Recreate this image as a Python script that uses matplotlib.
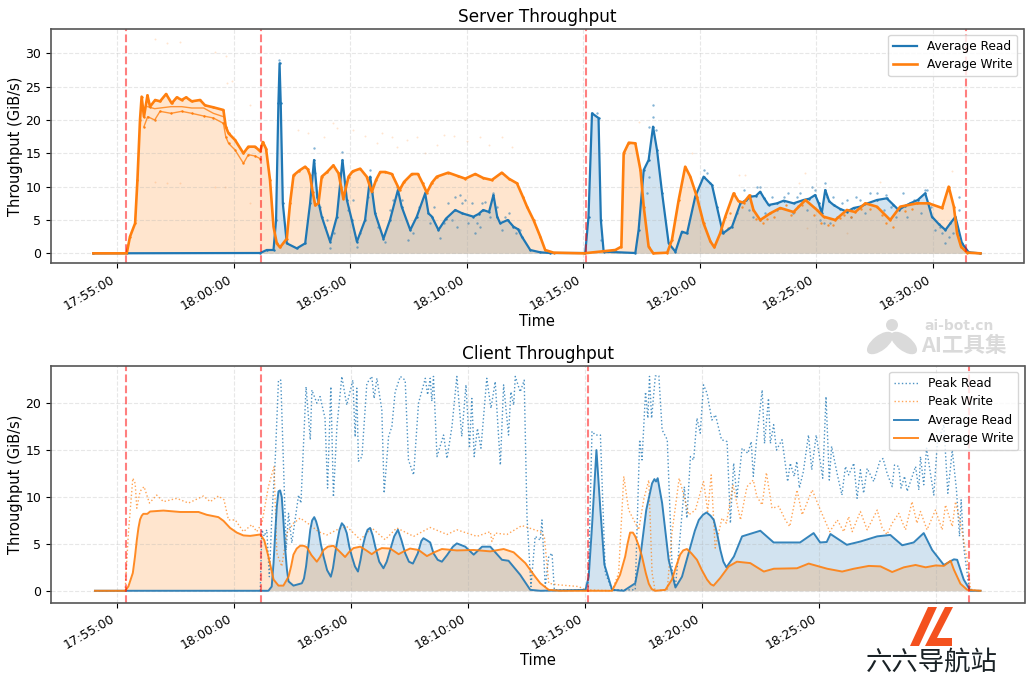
import numpy as np
import pandas as pd
import matplotlib
matplotlib.use('Agg')
import matplotlib.pyplot as plt
import matplotlib.dates as mdates
from matplotlib.patches import Rectangle, Polygon, Ellipse, Circle
from matplotlib.transforms import IdentityTransform

# all times are minutes after 17:55:00
server_write_t = [-1.03,0.4,0.54,0.76,0.86,0.97,1.04,1.14,1.29,1.4,1.62,1.83,2.09,2.33,2.55,2.76,2.95,3.19,3.55,3.76,4.12,4.55,4.65,4.77,5.05,5.41,5.62,5.91,6.13,6.24,6.38,6.55,6.7,6.84,6.98,7.27,7.41,7.56,7.8,8.06,8.17,8.27,8.38,8.49,8.63,8.77,9.0,9.27,9.49,9.6,9.7,9.92,10.1,10.42,10.7,10.92,11.1,11.28,11.5,11.78,12.11,12.3,12.64,12.9,13.1,13.28,13.5,13.71,14.2,14.6,14.93,15.36,15.7,16.07,16.5,16.8,17.15,17.4,17.58,17.86,18.15,18.36,18.72,20.01,21.37,21.63,21.73,21.95,22.23,22.45,22.59,22.8,23.0,23.6,23.8,24.09,24.37,24.59,24.87,25.16,25.45,25.62,25.87,26.09,26.45,26.66,26.88,27.13,27.3,27.59,28.02,28.45,29.02,29.53,30.03,30.31,30.81,31.31,31.67,32.1,32.6,33.17,33.6,34.32,34.82,35.4,35.68,35.9,36.04,36.21,36.47,37.04]
server_write_v = [0,0,2.5,4.5,11,20,23.5,20.5,23.7,22,23,22.8,23.9,22.5,23.4,23,23.4,22.8,23,22.2,21.9,21.5,19,18,17,15,16,16,15.3,16.7,15.7,11,4,1.5,0.9,2.2,7.5,11.7,12.4,13,12.6,11.7,9.2,7.2,7.5,11.5,12.2,13.2,12,10,8.2,11.5,12.3,12.7,11.5,9.2,11,12.2,12.2,11.9,9.5,10.7,11.9,11.9,10.5,9.1,10.6,11.5,12.1,11.6,11.2,11.9,11.3,11,12.1,11.2,10.5,8.5,7,5,2.5,0.5,0.1,0,0.5,1,15,16.6,16.5,12.5,7,1,0,0.1,2,8,13,11.5,8.5,4.5,1.8,0.9,3,5.5,9,7.8,7.6,8.7,6.5,5,6,6.8,6.2,8,6.5,5.5,5,6.5,6.2,7.5,7,5,7,7.5,7.5,6.8,10,7,3,1,0.1,0]

# lower servers during the first write phase
server_write_mid_t = [1.3,1.6,2.3,2.76,3.19,3.7,4.12,4.55]
server_write_mid_v = [22,21.7,22,22,21.8,21.8,21,20.5]
server_write_lo_t = [1.14,1.3,1.6,1.83,2.3,2.76,3.19,3.7,4.12,4.55,4.65,4.77,5.05,5.41,5.62,5.91,6.13]
server_write_lo_v = [19,20.5,20,21.3,21,21.3,21,20.6,20.3,19.5,17.5,16.5,15.5,13.5,14.8,14.6,14.2]

server_read_t = [-1.03,6.13,6.41,6.7,6.81,6.91,6.96,7.01,7.1,7.27,7.7,8.06,8.27,8.44,8.58,8.77,9.13,9.42,9.66,9.85,10.06,10.28,10.63,10.85,11.06,11.42,11.7,12.04,12.2,12.57,12.85,13.21,13.35,13.5,13.78,14.1,14.5,14.8,15.28,15.5,15.7,15.95,16.14,16.3,16.43,16.75,17,17.2,17.36,17.72,18.15,18.58,20.08,20.22,20.37,20.65,20.75,20.87,22.23,22.37,22.59,22.8,22.99,23.16,23.38,23.66,23.95,24.23,24.45,24.8,25.16,25.52,25.73,25.99,26.38,26.74,27,27.17,27.4,27.59,27.75,27.95,28.31,28.6,29.02,29.45,29.7,29.95,30.1,30.23,30.38,30.55,30.74,31,31.31,31.6,31.88,32.2,32.6,33.02,33.3,33.53,33.8,34.03,34.35,34.67,34.8,34.96,35.25,35.54,35.75,35.97,36.25,36.54,37.04]
server_read_v = [0,0.05,0.5,0.5,5,22.5,28.5,22.5,7.5,1.5,0.75,1.5,7.5,14,8.5,5.5,1.75,5.5,14,8,5,1.75,5,11.5,6,2.2,5,9.5,7,3.5,5.5,9,6,5.5,3.5,5.2,6.5,6,5.5,5.9,6.5,6.2,8.75,5.5,4.5,5,4,3.6,2.5,0.5,0.15,0.05,0.05,5.5,21,20.3,5,0.25,0.05,3.5,12.5,14,19,15.5,9,1.5,0.25,3.25,3,8.5,11.5,10.25,7,3,4,7.5,8,8.5,8.6,9.25,8.3,7.25,7.5,7.9,7.5,8,8.2,8.75,7.5,6,9.5,7.8,7.25,6.7,6.25,6.8,7,7.5,8,8.25,7.3,6.5,7.1,7.5,8,9,7.5,5.5,4.4,3.5,4.5,5.5,1.5,0.15,0]

# single server samples around the averages
read_dots_t = [6.94,6.94,8.44,8.44,8.49,9.66,9.66,10.85,8.7,9,9.13,10.13,10.28,11.49,11.99,12.49,13.21,14.5,14.71,14.93,15.79,16.14,16.64,15.36,13.85,14.57,17.29,15.57,23,23,23.1,22.8,22.8,22.73,20.75,20.58,25.16,25.3,25.45,27.59,30.38,30.45,29.95,32.6,33,34.67,35.54,35.4,36.14,36.14,30.31,30.6,27.59,27.3,28.59,29.16,31.31,31.88,
               8.9,9.3,9.9,10.4,10.75,11.2,11.7,11.85,12.2,12.7,12.95,13.4,13.6,14,14.2,14.35,14.8,15.05,15.2,15.45,15.65,16,16.3,16.5,16.8,17.1,26.6,26.9,27.1,27.45,27.8,28.1,28.3,28.8,29,29.3,29.6,29.8,30.15,30.7,30.9,31.1,31.5,31.7,32.1,32.3,32.9,33.2,33.4,33.7,33.9,34.2,34.5,34.75,34.9,35.1,35.3,35.7,35.85]
read_dots_v = [29,26.25,15.75,13.5,12,15.25,13.5,12.5,7,5,0.75,8,1,1.75,10,2,9.25,8.5,8.75,8,7.75,9,5.5,3,2.25,4,3.5,4,22.25,20.5,18.5,19,11.5,9,2,21,12.5,12,10.5,10,10.5,8.5,9.5,9,8.75,9.5,1.5,3,8.5,6.5,4.5,4.5,5,5.5,8.5,8.5,8,8,
               4,3,6.5,3,8.5,4,6.5,8,8,3,7,4.5,7,4.5,7.5,5,7.5,4.5,7.5,4.5,7.5,5.5,7,3.5,6,3,6,9.5,6.5,10,6,8.5,6.5,9,6,9,6.5,10,5,8.5,5.5,7.5,5.5,8.5,6,9,6.5,7,5.5,9,5.5,8,6,9.5,7,3.5,4,2.5,3]
write_dots_t = [1.62,2.12,2.69,4.19,4.65,4.94,4.69,5.7,7.77,8.2,8.85,9.27,9.42,10.13,10.63,11.13,11.35,11.78,11.99,12.42,12.85,13.21,13.71,14,14.43,15,15.57,15.93,16.5,16.93,1.62,2.12,2.69,4.19,4.62,5.7,22.37,24.66,26.67,26.95,29.52,29.24,35.82,32.74,29.6,31.3]
write_dots_v = [32.1,31.5,31.7,30.25,29.65,25.9,25.6,22.25,18.5,18,17.5,19.6,18.75,18.5,17.6,16.5,18,17.5,16,17,17.4,15,16.25,17.75,17.6,16.9,17.4,16.25,17.4,16,10.75,10.6,10.5,10,10,7.5,19.75,15.1,11.75,11.75,12.1,10.5,12.4,10.75,3.75,3]
write_band_t = [26.2,26.3,26.8,27.4,27.7,27.9,28.2,28.7,28.9,29.2,29.4,29.9,30.2,30.5,30.7,31,31.2,31.5,31.9,32.3,32.8,33,33.3,33.8,34.1]
write_band_v = [3.8,6,6.9,5.2,4.6,5.2,5.5,7.2,5.7,7.1,7.3,5.7,4.5,4.2,4.3,5.3,5.8,5.4,6.6,6.6,5.8,4.5,4,6.4,6.7]

client_write_t = [-0.96,0.33,0.47,0.66,0.75,0.83,0.9,0.97,1.04,1.11,1.28,1.4,1.97,2.68,3.47,3.82,4.32,4.54,4.82,5.11,5.39,5.68,6.11,6.28,6.46,6.68,6.89,7.1,7.32,7.43,7.53,7.67,7.82,7.96,8.1,8.3,8.53,8.67,8.82,9,9.24,9.5,9.74,9.9,10.1,10.39,10.65,10.88,11.1,11.31,11.67,12.03,12.25,12.52,12.88,13.24,13.55,13.88,14.52,15.24,15.95,16.52,16.95,17.45,17.87,18.09,18.45,18.94,21.16,21.5,21.72,21.82,21.93,22.05,22.15,22.3,22.44,22.6,22.73,22.85,23,23.44,23.72,23.9,24.07,24.2,24.36,24.55,24.79,25,25.22,25.38,25.5,25.78,26.15,26.5,27.07,27.65,28.08,29.07,29.57,30.36,31,31.5,32.14,32.64,33.14,33.64,34.14,34.57,35,35.35,35.64,35.78,36.06,36.35,36.92]
client_write_v = [0,0,0.46,1.9,3.6,5.4,6.7,7.6,8,8.2,8.2,8.45,8.55,8.4,8.4,8.1,7.85,7.45,6.7,6.2,5.9,5.85,6,5.4,3.65,1.2,0.55,0.55,1.5,2.6,3.85,4.5,4.8,4.8,4.65,3.8,3.1,3.6,4.35,4.7,4.8,4.2,3.6,4.1,4.55,4.7,4.3,3.9,4.3,4.55,4.5,3.9,4.2,4.5,4.35,3.7,4.1,4.45,4.3,4.35,4.2,4.45,4.1,2.95,1.5,0.8,0.1,0,0,1.7,3.65,5,6.2,6.2,5.8,4.8,3.65,1.9,0.75,0.2,0,0.1,1.2,2.6,3.85,4.3,4.45,4,3.3,2.2,1.2,0.7,0.55,1.35,2.6,3.1,2.95,2.05,2.35,2.4,2.9,2.35,2.05,2.35,2.65,2.6,2,2.5,2.75,2.5,2.7,2.65,3.2,2.25,0.75,0.1,0]

client_read_t = [-0.96,6.46,6.6,6.68,6.75,6.82,6.89,6.96,7.03,7.1,7.17,7.25,7.32,7.53,7.89,7.98,8.07,8.16,8.25,8.33,8.42,8.5,8.6,8.7,8.82,8.97,9.13,9.22,9.31,9.39,9.5,9.6,9.7,9.81,9.92,10.03,10.16,10.29,10.4,10.5,10.6,10.7,10.81,10.92,11.03,11.2,11.38,11.52,11.67,11.84,12,12.15,12.31,12.47,12.64,12.85,13,13.09,13.23,13.38,13.52,13.7,13.88,14.1,14.35,14.52,14.88,15.24,15.6,15.95,16.45,16.73,17.23,17.66,18.09,20.02,20.16,20.3,20.49,20.66,20.83,21.16,21.66,22.15,22.37,22.62,22.87,22.97,23.04,23.11,23.3,23.58,23.87,24.15,24.51,24.7,24.87,25.05,25.2,25.37,25.51,25.66,25.79,25.92,26.05,26.37,26.72,27.5,28.07,29.2,29.78,30.06,30.34,30.5,31.2,31.78,32.5,33.06,33.57,34.06,34.49,34.85,35.35,35.78,35.92,36.2,36.49,36.92]
client_read_v = [0,0,0.45,3,6.15,9,10.6,10.7,10,7.5,4.7,2.3,1,0.55,0.8,1.3,2.6,4.6,6.5,7.5,7.85,7.4,6.5,5,3.65,2.2,1.5,2.4,3.9,5.1,6.5,7.2,6.9,6.15,4.7,3.65,2.6,2.05,3.3,4.8,5.8,6.5,6.7,5.9,4.7,3.1,2.4,3.1,4.35,5.8,6.5,5.4,4,3.1,2.9,4,5.3,5.6,5.4,5.15,4,3.3,3.1,3.8,4.7,5.05,4.7,3.85,4.7,4.7,3.3,3.2,1.7,0.1,0,0.1,1.5,6.85,15,8.6,2.8,0.1,0,0.8,3.65,8.6,11.45,11.9,11.65,12,9.35,3.3,0.35,1.5,4.7,6.4,7.55,8.1,8.35,8,7.55,6,4.35,3.1,2.5,3.65,5.8,6.4,5.15,5.15,6.15,5.15,5.2,6.05,4.9,5.25,5.8,5.95,4.85,5.15,6.15,4.35,2.75,3.35,3.3,1.2,0,0]

peak_read_t = [6.11,6.18,6.28,6.39,6.5,6.6,6.75,6.89,6.99,7.1,7.22,7.32,7.46,7.75,7.85,8.07,8.25,8.32,8.53,8.67,8.88,8.99,9.13,9.24,9.39,9.6,9.81,10.07,10.17,10.24,10.31,10.46,10.67,10.88,10.98,11.1,11.31,11.41,11.6,11.74,11.88,12.1,12.31,12.45,12.67,12.88,13.17,13.27,13.38,13.45,13.52,13.67,13.95,14.1,14.31,14.52,14.73,14.91,15.06,15.16,15.26,15.4,15.55,15.8,15.98,16.16,16.38,16.52,16.73,16.83,16.95,17.02,17.23,17.4,17.52,17.69,17.87,18.09,18.16,18.3,18.45,18.59,18.69,20,20.14,20.3,20.44,20.66,20.87,21.16,22.15,22.34,22.44,22.59,22.69,22.76,22.85,23.01,23.16,23.3,23.52,23.73,23.87,24.08,24.25,24.36,24.51,24.65,24.79,24.93,25.07,25.22,25.43,25.58,25.84,26.08,26.22,26.36,26.5,26.72,26.97,27.11,27.2,27.34,27.58,27.68,27.85,27.93,28.07,28.19,28.43,28.67,28.78,28.95,29.06,29.17,29.34,29.56,29.7,29.89,30.17,30.31,30.45,30.55,30.78,30.99,31.14,31.28,31.5,31.64,31.78,31.92,32.07,32.35,32.61,32.75,32.92,33.14,33.24,33.42,33.52,33.67,33.78,34.14,34.28,34.35,34.49,34.61,34.92,35.07,35.35,35.52,35.71,35.89,36.02,36.09,36.2,36.42,36.56]
peak_read_v = [0,6.5,5.8,6.5,1.5,7.55,13.95,22.45,22.45,13.95,4.35,8.25,5.1,10.2,9.35,21.75,16.1,21.4,20,20.7,18.4,10.95,21.75,10,17.5,22.85,19.8,22.45,16.4,21.6,13.8,14.3,22.1,22.85,20.5,22.65,19.3,10.4,16.45,17.5,21.2,22.85,22.45,13.95,12.35,20,22.65,20.9,22.65,20.2,22.85,14.3,16.6,14.1,17.5,22.85,16.45,21.95,15.2,20.5,14.3,17.3,15.2,22.65,19.45,22.3,13.4,21.95,16.6,21.2,19.8,22.85,21.2,22.45,7.9,0.45,5.8,5.4,7.55,0.45,3.65,4,0.1,0.1,0.45,17,16.6,16.6,1.9,0.1,0.1,16.1,13.95,21.2,18.4,22.85,18.4,22.9,22.9,17.15,16.1,2.25,0.45,6.15,11.1,7.75,14.3,13.95,18.4,16.8,21.95,21.05,18.2,18.75,16.1,15.9,7.2,13.6,10,15.2,14.65,15.9,12.2,16.1,21.4,15.7,20.5,15.7,17.7,15,16.1,11.65,13.6,12.2,13.8,10.95,12.7,16.6,12.9,16.6,12,20.7,11.8,15.4,12.55,10.2,13.25,12.35,13.6,9.85,12.9,10.4,13.05,11.65,13.8,14.1,12.55,11.1,13.4,13.25,10.95,12.2,10.6,13.25,10.75,14.3,11.3,15.2,10.2,15.7,17.7,10.4,15,10.75,5.8,9.7,4.7,0.45,0.1]

peak_write_t = [-0.96,0.33,0.47,0.66,0.76,0.83,0.97,1.14,1.37,1.68,1.97,2.54,3.04,3.68,3.97,4.32,4.56,4.75,5.04,5.39,5.75,5.96,6.18,6.46,6.7,6.82,7.03,7.25,7.53,7.82,8.25,8.6,8.96,9.39,9.81,10.39,10.88,11.45,11.95,12.67,13.38,14.1,14.52,15.38,15.95,16.02,16.16,16.66,17.3,18.09,18.26,18.45,18.8,19.73,20.02,21.16,21.44,21.66,21.87,22.3,22.51,22.73,22.87,23,23.52,23.72,24.03,24.2,24.44,24.72,25.07,25.25,25.4,25.57,25.86,26.05,26.33,26.65,26.93,27.2,27.35,27.58,27.76,28,28.29,28.57,28.76,29.07,29.29,29.72,30.07,30.47,30.79,31.07,31.28,31.43,31.78,32.07,32.5,32.71,32.92,33.14,33.42,33.71,33.99,34.2,34.35,34.63,34.99,35.28,35.42,35.71,35.85,36.09,36.35,36.49,36.92]
peak_write_v = [0,0,6.15,12,11.45,8.8,10.6,11.1,9.35,10.2,9.5,9.85,9.35,10.1,9.5,10.1,9.7,7.55,7.55,6.3,7.05,6.3,7.2,11.1,13.25,4,2.6,6.15,7.2,7.75,7,6.3,5.95,6.5,6.85,5.45,6.7,5.45,6.7,5.8,6.75,6,6.5,5.8,6.3,5.25,6.15,6,6.95,6.3,5.8,0.8,0.65,0.45,0.1,0,1.9,12.2,8.6,6.5,9.7,11.8,1.9,0,0.1,6.15,12,10.4,8.1,8.6,11.65,8.45,12.35,4.55,7.75,7.2,11.3,7.55,11.1,11.8,10.05,9.15,12.6,8.8,9,7.55,6.85,10.75,8.1,10.75,8.6,6.3,7.55,6.3,7.9,6.3,8.45,6.5,8.6,6.7,6,7.2,8.25,6.5,9.5,7.2,8.45,6.5,8.6,6.5,9.15,6.85,9.5,6.85,3.3,0.1,0]

phase_marks = [0.373, 6.16, 20.11, 36.41]
tick_minutes = [0, 5, 10, 15, 20, 25, 30, 35]

base = pd.Timestamp('2024-01-01 17:55:00')
W, H = 1034, 675


def to_time(minutes):
    return base + pd.to_timedelta(np.array(minutes, dtype=float), unit='min')


def box(x0, y0, x1, y1):
    # pixel box to figure fractions
    return [x0 / W, 1 - y1 / H, (x1 - x0) / W, (y1 - y0) / H]


def fx(x, y):
    return x / W, 1 - y / H


def style_axis(ax, title, xlim, ylim):
    ax.set_title(title, fontsize=12.2, pad=5)
    ax.set_xlabel('Time', fontsize=10.5, labelpad=1)
    ax.set_ylabel('Throughput (GiB/s)', fontsize=10.5, labelpad=2)
    ax.grid(True, linestyle='--', alpha=0.3)
    ax.set_xlim(to_time(xlim[0]), to_time(xlim[1]))
    ax.set_ylim(*ylim)
    ax.set_xticks(to_time(tick_minutes))
    ax.xaxis.set_major_formatter(mdates.DateFormatter('%H:%M:%S'))
    ax.tick_params(labelsize=9)
    for lab in ax.get_xticklabels():
        lab.set_rotation(30)
        lab.set_ha('right')
    for s in ax.spines.values():
        s.set_color('#555555')
        s.set_linewidth(1.2)
    for m in phase_marks:
        ax.axvline(to_time(m), color='red', linestyle='--', linewidth=1.5, alpha=0.5)


fig = plt.figure(figsize=(W / 100, H / 100), dpi=100)
ax1 = fig.add_axes(box(51, 29, 1023.5, 263))
ax2 = fig.add_axes(box(51, 366, 1024.5, 602.5))

# server panel
ax1.scatter(to_time(write_dots_t), write_dots_v, s=2, color='tab:orange', alpha=0.2, linewidths=0)
ax1.fill_between(to_time(server_read_t), server_read_v, 0, color='tab:blue', alpha=0.2, linewidth=0)
ax1.fill_between(to_time(server_write_t), server_write_v, 0, color='tab:orange', alpha=0.2, linewidth=0)
ax1.scatter(to_time(read_dots_t), read_dots_v, s=3, color='tab:blue', alpha=0.55, linewidths=0)
ax1.plot(to_time(server_read_t), server_read_v, color='tab:blue', lw=1.6, label='Average Read')
ax1.scatter(to_time(server_read_t), server_read_v, s=3, color='tab:blue', linewidths=0)
ax1.plot(to_time(server_write_mid_t), server_write_mid_v, color='tab:orange', lw=1, alpha=0.8)
ax1.plot(to_time(server_write_lo_t), server_write_lo_v, color='tab:orange', lw=1, alpha=0.8)
ax1.scatter(to_time(server_write_lo_t), server_write_lo_v, s=3, color='tab:orange', linewidths=0)
ax1.scatter(to_time(write_band_t), write_band_v, s=3, color='tab:orange', alpha=0.8, linewidths=0)
ax1.plot(to_time(server_write_t), server_write_v, color='tab:orange', lw=1.9, label='Average Write')
ax1.scatter(to_time(server_write_t), server_write_v, s=3, color='tab:orange', linewidths=0)
style_axis(ax1, 'Server Throughput', (-2.85, 38.89), (-1.45, 33.65))
ax1.set_yticks([0, 5, 10, 15, 20, 25, 30])
ax1.legend(loc='upper right', fontsize=8.7, labelspacing=0.45)

# client panel
ax2.fill_between(to_time(client_read_t), client_read_v, 0, color='tab:blue', alpha=0.2, linewidth=0)
ax2.fill_between(to_time(client_write_t), client_write_v, 0, color='tab:orange', alpha=0.2, linewidth=0)
ax2.plot(to_time(peak_read_t), peak_read_v, color='tab:blue', ls=':', lw=1, alpha=0.8, label='Peak Read')
ax2.plot(to_time(peak_write_t), peak_write_v, color='tab:orange', ls=':', lw=1, alpha=0.7, label='Peak Write')
ax2.plot(to_time(client_read_t), client_read_v, color='tab:blue', lw=1.4, alpha=0.9, label='Average Read')
ax2.plot(to_time(client_write_t), client_write_v, color='tab:orange', lw=1.4, alpha=0.9, label='Average Write')
style_axis(ax2, 'Client Throughput', (-2.84, 38.8), (-1.25, 23.96))
ax2.set_yticks([0, 5, 10, 15, 20])
ax2.legend(loc='upper right', fontsize=8.7, labelspacing=0.45)

# watermarks pasted over the figure
grey = '#dadada'
px = IdentityTransform()
fig.add_artist(Circle((892, H - 325), 6, transform=px, color=grey, lw=0))
fig.add_artist(Ellipse((880, H - 343), 31, 15, angle=38, transform=px, color=grey, lw=0))
fig.add_artist(Ellipse((904, H - 343), 31, 15, angle=-38, transform=px, color=grey, lw=0))
cjk = ['Noto Sans CJK SC', 'DejaVu Sans']
fx0, fy0 = fx(924, 326)
fig.text(fx0, fy0, 'ai-bot.cn', fontsize=10, color=grey, weight='bold', va='center', family='DejaVu Sans')
fx0, fy0 = fx(921, 346)
fig.text(fx0, fy0, 'AI工具集', fontsize=15.5, color=grey, weight='bold', va='center', family=cjk)

fig.add_artist(Rectangle((833 / W, 0), (W - 833) / W, 1 - 603.5 / H, transform=fig.transFigure, color='white', lw=0, zorder=5))
red = '#f4511e'
left_bar = [fx(928, 607), fx(937, 607), fx(919, 646), fx(910, 646)]
l_mark = [fx(945, 607), fx(953, 607), fx(937, 638), fx(952, 638), fx(952, 646), fx(925, 646)]
fig.add_artist(Polygon(left_bar, closed=True, transform=fig.transFigure, color=red, lw=0, zorder=6))
fig.add_artist(Polygon(l_mark, closed=True, transform=fig.transFigure, color=red, lw=0, zorder=6))
fx0, fy0 = fx(932, 662)
fig.text(fx0, fy0, '六六导航站', fontsize=19, color='#1a2226', weight='medium', ha='center', va='center', family=cjk, zorder=7)

fig.savefig('out.png', dpi=100)
